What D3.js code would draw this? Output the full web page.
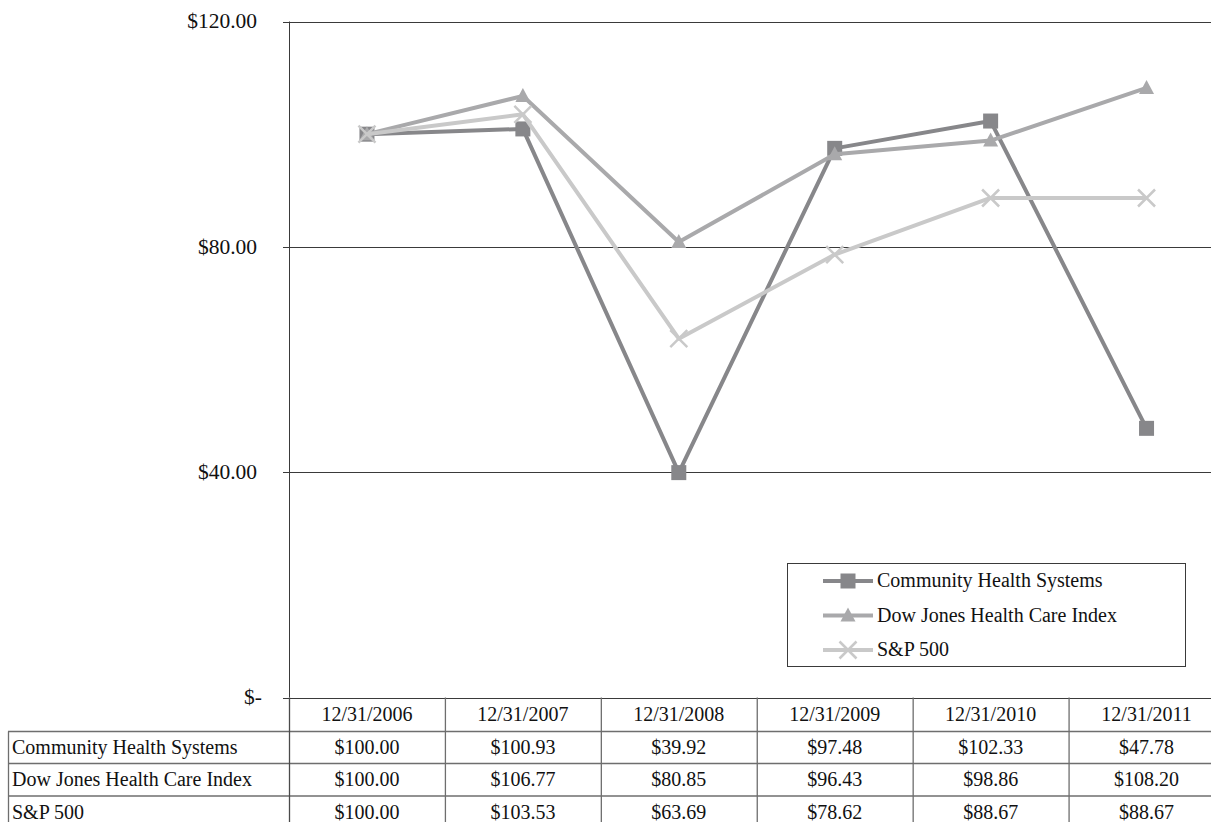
<!DOCTYPE html>
<html><head><meta charset="utf-8">
<script src="https://cdn.jsdelivr.net/npm/d3@7"></script>
<style>
html,body{margin:0;padding:0;background:#fff;}
svg{display:block;font-family:"Liberation Serif","Times New Roman",serif;}
</style></head>
<body>
<svg id="chart" width="1211" height="822"></svg>
<script>
const dates = ["12/31/2006","12/31/2007","12/31/2008","12/31/2009","12/31/2010","12/31/2011"];
const seriesNames = ["Community Health Systems","Dow Jones Health Care Index","S&P 500"];
const chsValues = [100.00,100.93,39.92,97.48,102.33,47.78];
const djValues  = [100.00,106.77,80.85,96.43,98.86,108.20];
const spValues  = [100.00,103.53,63.69,78.62,88.67,88.67];
const yTicks = [0,40,80,120];
const yTickLabels = ["$-","$40.00","$80.00","$120.00"];

const series = [
  {name: seriesNames[0], values: chsValues, color:"#87878a", marker:"square"},
  {name: seriesNames[1], values: djValues,  color:"#a9a9ab", marker:"triangle"},
  {name: seriesNames[2], values: spValues,  color:"#c9c9c9", marker:"x"}
];

const W=1211, H=822;
const svg = d3.select("#chart");
const x = d3.scaleBand().domain(dates).range([289, 1224.5]);
const y = d3.scaleLinear().domain([0,120]).range([697.5, 21.5]);
const cx = d => x(d) + x.bandwidth()/2;
const fmt = v => "$" + d3.format(".2f")(v);
const FS = 20;

// gridlines + ticks
const grid = svg.append("g");
grid.selectAll("line").data(yTicks).join("line")
  .attr("x1", 283).attr("x2", W)
  .attr("y1", d=>Math.round(y(d))+0.5).attr("y2", d=>Math.round(y(d))+0.5)
  .attr("stroke","#3a3a3a").attr("stroke-width",1);
// y axis
svg.append("line").attr("x1",289.5).attr("x2",289.5).attr("y1",y(120)).attr("y2",y(0))
  .attr("stroke","#3a3a3a");
// y labels
svg.append("g").selectAll("text").data(yTicks).join("text")
  .attr("x", d => d===0 ? 262 : 257)
  .attr("y", d=>y(d))
  .attr("dy","0.32em")
  .attr("text-anchor","end")
  .attr("font-size",21.5).attr("fill","#111")
  .text((d,i)=>yTickLabels[i]);

// series
const line = d3.line().x((d,i)=>cx(dates[i])).y(d=>y(d));
function drawMarker(g, type, color, px, py){
  if(type==="square"){
    g.append("rect").attr("x",px-7.5).attr("y",py-7.5).attr("width",15).attr("height",15).attr("fill",color);
  } else if(type==="triangle"){
    g.append("path").attr("d",`M${px},${py-8}L${px+7.5},${py+6}L${px-7.5},${py+6}Z`).attr("fill",color);
  } else {
    const s=8.5;
    g.append("path").attr("d",`M${px-s},${py-s}L${px+s},${py+s}M${px+s},${py-s}L${px-s},${py+s}`)
      .attr("stroke",color).attr("stroke-width",2.5).attr("fill","none");
  }
}
series.forEach(s=>{
  const g = svg.append("g");
  g.append("path").attr("d", line(s.values)).attr("fill","none")
    .attr("stroke", s.color).attr("stroke-width",4).attr("stroke-linejoin","round");
  s.values.forEach((v,i)=>drawMarker(g, s.marker, s.color, cx(dates[i]), y(v)));
});

// legend
const lg = svg.append("g");
lg.append("rect").attr("x",787.5).attr("y",563.5).attr("width",398).attr("height",103)
  .attr("fill","#fff").attr("stroke","#3a3a3a");
series.forEach((s,i)=>{
  const ly = 581 + i*34.5;
  lg.append("line").attr("x1",823).attr("x2",873).attr("y1",ly).attr("y2",ly)
    .attr("stroke",s.color).attr("stroke-width",4);
  drawMarker(lg, s.marker, s.color, 848, ly);
  lg.append("text").attr("x",877).attr("y",ly).attr("dy","0.32em")
    .attr("font-size",FS).attr("fill","#111").text(s.name);
});

// data table
const rowTop = [697.5, 731.5, 763.5, 796];
const rowBottom = 829;
const tg = svg.append("g");
[731.5, 763.5, 796, 828.5].forEach(yy=>{
  tg.append("line").attr("x1",8).attr("x2",W).attr("y1",yy).attr("y2",yy)
    .attr("stroke","#6e6e6e").attr("stroke-width",1.3);
});
tg.append("line").attr("x1",8.5).attr("x2",8.5).attr("y1",731.5).attr("y2",rowBottom)
  .attr("stroke","#6e6e6e").attr("stroke-width",1.3);
dates.forEach((d,i)=>{
  const xx = x(d);
  tg.append("line").attr("x1",xx+0.5).attr("x2",xx+0.5).attr("y1",697.5).attr("y2",rowBottom)
    .attr("stroke", i===0?"#4a4a4a":"#6e6e6e").attr("stroke-width",1.3);
});
tg.selectAll("text.h").data(dates).join("text").attr("class","h")
  .attr("x", d=>cx(d)).attr("y", 714.5).attr("dy","0.32em").attr("text-anchor","middle")
  .attr("font-size",FS).attr("fill","#111").text(d=>d);
series.forEach((s,r)=>{
  const yc = (rowTop[r+1] + (r<2 ? rowTop[r+2] : 828.5))/2;
  tg.append("text").attr("x",12).attr("y",yc).attr("dy","0.32em")
    .attr("font-size",FS).attr("fill","#111").text(s.name);
  s.values.forEach((v,i)=>{
    tg.append("text").attr("x",cx(dates[i])).attr("y",yc).attr("dy","0.32em")
      .attr("text-anchor","middle").attr("font-size",FS).attr("fill","#111").text(fmt(v));
  });
});
</script>
</body></html>
